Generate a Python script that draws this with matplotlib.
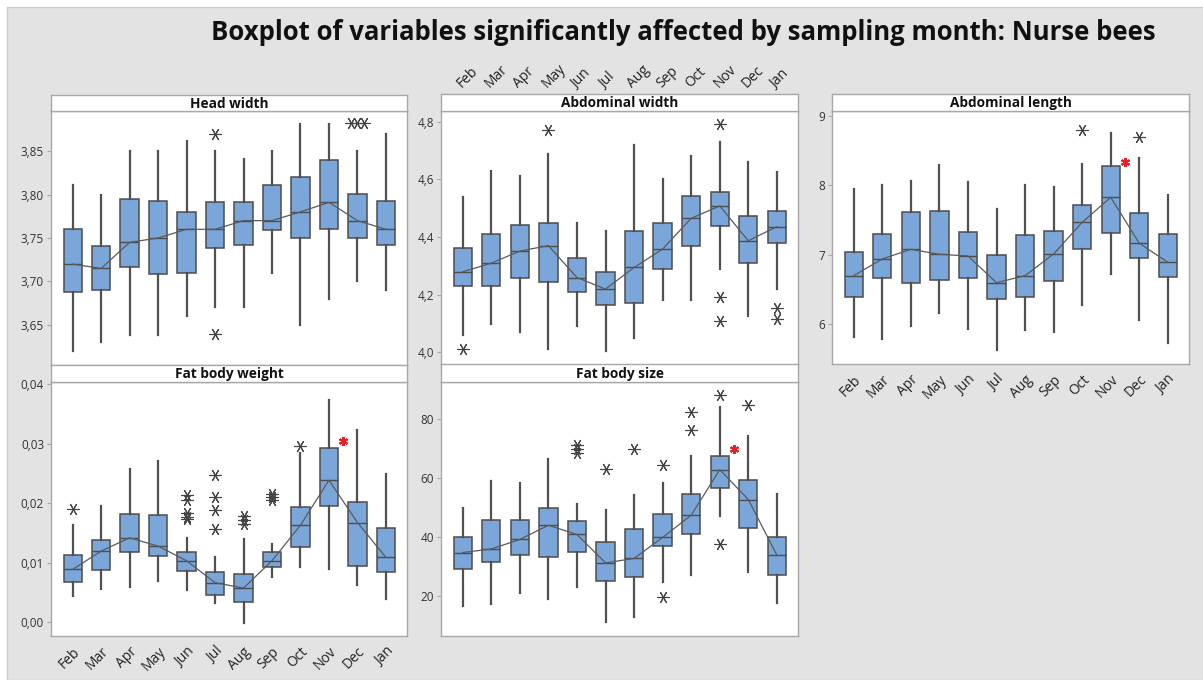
import matplotlib
matplotlib.use("Agg")
import matplotlib.pyplot as plt
from matplotlib.patches import Rectangle
from matplotlib.ticker import FuncFormatter, MultipleLocator

plt.rcParams['font.family'] = ['Open Sans', 'DejaVu Sans']

months = ['Feb', 'Mar', 'Apr', 'May', 'Jun', 'Jul', 'Aug', 'Sep', 'Oct', 'Nov', 'Dec', 'Jan']

# ---- Head width ----
hw_lo  = [3.620, 3.630, 3.639, 3.639, 3.660, 3.671, 3.671, 3.710, 3.650, 3.680, 3.700, 3.690]
hw_q1  = [3.688, 3.690, 3.717, 3.709, 3.710, 3.738, 3.742, 3.759, 3.750, 3.760, 3.750, 3.742]
hw_med = [3.720, 3.715, 3.745, 3.750, 3.760, 3.760, 3.770, 3.770, 3.780, 3.791, 3.770, 3.760]
hw_q3  = [3.760, 3.741, 3.795, 3.793, 3.780, 3.791, 3.791, 3.811, 3.820, 3.840, 3.801, 3.793]
hw_hi  = [3.811, 3.800, 3.850, 3.850, 3.861, 3.850, 3.841, 3.850, 3.881, 3.881, 3.850, 3.870]
hw_out = [[], [], [], [], [], [3.870, 3.640], [], [], [], [], [3.882, 3.882, 3.882], []]

# ---- Abdominal width ----
aw_lo  = [4.059, 4.099, 4.071, 4.009, 4.091, 4.003, 4.050, 4.181, 4.181, 4.288, 4.126, 4.219]
aw_q1  = [4.230, 4.230, 4.259, 4.244, 4.210, 4.164, 4.170, 4.288, 4.367, 4.438, 4.309, 4.378]
aw_med = [4.279, 4.309, 4.351, 4.370, 4.259, 4.219, 4.294, 4.358, 4.465, 4.508, 4.387, 4.436]
aw_q3  = [4.360, 4.410, 4.440, 4.449, 4.327, 4.279, 4.422, 4.448, 4.541, 4.557, 4.472, 4.491]
aw_hi  = [4.538, 4.631, 4.612, 4.690, 4.450, 4.420, 4.719, 4.600, 4.681, 4.730, 4.660, 4.626]
aw_out = [[4.009], [], [], [4.773], [], [], [], [], [], [4.794, 4.192, 4.108], [], [4.152, 4.116]]

# ---- Abdominal length ----
al_lo  = [5.814, 5.790, 5.977, 6.168, 5.938, 5.627, 5.914, 5.886, 6.278, 6.725, 6.063, 5.727]
al_q1  = [6.389, 6.662, 6.590, 6.633, 6.672, 6.360, 6.398, 6.619, 7.079, 7.309, 6.959, 6.676]
al_med = [6.700, 6.940, 7.079, 7.007, 6.983, 6.599, 6.700, 7.012, 7.467, 7.826, 7.165, 6.892]
al_q3  = [7.035, 7.304, 7.615, 7.634, 7.333, 6.992, 7.289, 7.347, 7.716, 8.281, 7.606, 7.304]
al_hi  = [7.951, 8.000, 8.066, 8.296, 8.051, 7.663, 8.000, 7.979, 8.310, 8.746, 8.387, 7.855]
al_out = [[], [], [], [], [], [], [], [], [8.794], [], [8.689], []]

# ---- Fat body weight ----
fw_lo  = [0.00442, 0.00565, 0.00599, 0.00699, 0.00543, 0.00319, -0.00017, 0.00755, 0.00934, 0.00889, 0.00621, 0.00386]
fw_q1  = [0.00683, 0.00873, 0.01175, 0.01108, 0.00862, 0.00464, 0.00341, 0.00934, 0.01270, 0.01958, 0.00951, 0.00839]
fw_med = [0.00889, 0.01197, 0.01421, 0.01281, 0.01035, 0.00666, 0.00576, 0.01035, 0.01634, 0.02389, 0.01678, 0.01091]
fw_q3  = [0.01130, 0.01387, 0.01829, 0.01801, 0.01180, 0.00839, 0.00806, 0.01175, 0.01941, 0.02937, 0.02020, 0.01578]
fw_hi  = [0.01634, 0.01958, 0.02573, 0.02708, 0.01410, 0.01102, 0.01399, 0.01309, 0.02848, 0.03743, 0.03239, 0.02501]
fw_out = [[0.01913], [], [], [], [0.0214, 0.0206, 0.0183, 0.0177, 0.0173],
          [0.0247, 0.0211, 0.0188, 0.0157], [0.01785, 0.01717, 0.0165], [0.02165, 0.0211, 0.02053],
          [0.0296], [], [], []]

# ---- Fat body size ----
fs_lo  = [16.9, 17.3, 21.2, 19.0, 23.3, 11.2, 13.1, 24.9, 27.1, 47.3, 28.2, 17.6]
fs_q1  = [29.1, 31.7, 33.9, 33.4, 35.1, 25.1, 26.4, 37.0, 41.1, 56.6, 43.0, 27.2]
fs_med = [34.8, 36.0, 39.2, 44.0, 40.9, 31.3, 32.8, 39.9, 47.4, 62.8, 52.7, 33.9]
fs_q3  = [40.1, 45.8, 45.8, 49.7, 45.5, 38.2, 42.6, 47.8, 54.4, 67.4, 59.2, 40.1]
fs_hi  = [49.8, 59.0, 58.4, 66.5, 51.3, 49.1, 54.2, 58.4, 67.5, 83.9, 74.2, 54.4]
fs_out = [[], [], [], [], [71.0, 69.9, 68.4], [62.9], [69.6], [64.2, 19.7], [82.2, 76.1],
          [88.0, 37.8], [84.7], []]

# red significance marks (month, value)
sig_month = 'Nov'
al_sig = 8.34
fw_sig = 0.0305
fs_sig = 69.8

# ---------------------------------------------------------------
W, H = 1203, 680
fig = plt.figure(figsize=(W / 100, H / 100), dpi=100, facecolor='white')
fig.patches.append(Rectangle((7 / W, 0), 1 - 7 / W, 1 - 7 / H, transform=fig.transFigure,
                             facecolor='#e3e3e3', edgecolor='#cccccc', linewidth=1, zorder=-10))

fig.text(0.568, 1 - 33 / H, 'Boxplot of variables significantly affected by sampling month: Nurse bees',
         ha='center', va='center', fontsize=18.5, fontweight='bold', color='#111111')

BOX_FC = '#7ba6da'
EDGE = '#4d4d4d'
SPINE = '#a8a8a8'
pos = list(range(1, 13))


def px_rect(x0, y0, x1, y1):
    return [x0 / W, 1 - y1 / H, (x1 - x0) / W, (y1 - y0) / H]


def fmt_comma(dec):
    return FuncFormatter(lambda v, p: (f'{v:.{dec}f}').replace('.', ','))


def panel(rect, strip_rect, title, lo, q1, med, q3, hi, out, ylim, ystep, ydec,
          bottom_labels=False, top_labels=False, sig=None):
    ax = fig.add_axes(px_rect(*rect))
    ax.set_facecolor('white')
    stats = []
    for i in range(12):
        stats.append(dict(whislo=lo[i], q1=q1[i], med=med[i], q3=q3[i], whishi=hi[i], fliers=[]))
    ax.bxp(stats, positions=pos, widths=0.64, patch_artist=True, showcaps=False,
           boxprops=dict(facecolor=BOX_FC, edgecolor=EDGE, linewidth=1.1),
           medianprops=dict(color=EDGE, linewidth=1.0),
           whiskerprops=dict(color='#505050', linewidth=1.6),
           showfliers=False, manage_ticks=False)
    ax.plot(pos, med, color='#5a5a5a', linewidth=0.9, zorder=4)
    # outliers, ties spread side by side
    for i, vals in enumerate(out):
        seen = {}
        for v in vals:
            seen.setdefault(round(v, 6), []).append(v)
        for key, grp in seen.items():
            n = len(grp)
            for k, v in enumerate(grp):
                dx = (k - (n - 1) / 2) * 0.24
                ax.plot(pos[i] + dx, v, linestyle='none', marker=(6, 2, 90), markersize=9,
                        markeredgewidth=0.8, color='#444444', zorder=5)
    if sig is not None:
        xi = pos[months.index(sig_month)] + 0.5
        ax.plot(xi, sig, linestyle='none', marker=(6, 2, 0), markersize=6.5,
                markeredgewidth=1.5, color='#e8202a', zorder=6)
    ax.set_xlim(0.24, 12.74)
    ax.set_ylim(*ylim)
    ax.yaxis.set_major_locator(MultipleLocator(ystep))
    ax.yaxis.set_major_formatter(fmt_comma(ydec))
    ax.tick_params(axis='y', labelsize=8.5, length=3, color=SPINE, labelcolor='#333333', pad=2)
    ax.set_xticks(pos)
    if bottom_labels:
        ax.set_xticklabels(months, rotation=45, ha='right', rotation_mode='anchor',
                           fontsize=10, color='#222222')
        ax.tick_params(axis='x', length=0, pad=6)
    else:
        ax.tick_params(axis='x', length=0, labelbottom=False)
    for s in ax.spines.values():
        s.set_color(SPINE)
        s.set_linewidth(1.0)
    sx = fig.add_axes(px_rect(*strip_rect))
    sx.set_facecolor('white')
    sx.set_xlim(0.24, 12.74)
    sx.set_yticks([])
    for s in sx.spines.values():
        s.set_color(SPINE)
        s.set_linewidth(1.0)
    sx.text(0.5, 0.45, title, transform=sx.transAxes, ha='center', va='center',
            fontsize=9.8, fontweight='bold', color='#111111')
    if top_labels:
        sx.set_xticks([p + 0.05 for p in pos])
        sx.set_xticklabels(months, rotation=45, ha='left', rotation_mode='anchor',
                           fontsize=10, color='#222222')
        sx.tick_params(axis='x', length=0, top=False, bottom=False, labeltop=True,
                       labelbottom=False, pad=2)
    else:
        sx.set_xticks([])
    return ax


# column x ranges (px), row y ranges (px)
c0 = (51, 407)
c1 = (441, 798)
c2 = (832, 1189)

panel((c0[0], 111, c0[1], 365), (c0[0], 95, c0[1], 111), 'Head width',
      hw_lo, hw_q1, hw_med, hw_q3, hw_hi, hw_out, (3.604, 3.896), 0.05, 2)
panel((c1[0], 111, c1[1], 365), (c1[0], 94, c1[1], 111), 'Abdominal width',
      aw_lo, aw_q1, aw_med, aw_q3, aw_hi, aw_out, (3.955, 4.838), 0.2, 1, top_labels=True)
panel((c2[0], 111, c2[1], 364), (c2[0], 94, c2[1], 111), 'Abdominal length',
      al_lo, al_q1, al_med, al_q3, al_hi, al_out, (5.43, 9.067), 1, 0, bottom_labels=True, sig=al_sig)
panel((c0[0], 382, c0[1], 636), (c0[0], 365, c0[1], 382), 'Fat body weight',
      fw_lo, fw_q1, fw_med, fw_q3, fw_hi, fw_out, (-0.0023, 0.0404), 0.01, 2,
      bottom_labels=True, sig=fw_sig)
panel((c1[0], 382, c1[1], 636), (c1[0], 364, c1[1], 382), 'Fat body size',
      fs_lo, fs_q1, fs_med, fs_q3, fs_hi, fs_out, (6.6, 92.4), 20, 0, sig=fs_sig)

fig.savefig('out.png', dpi=100, facecolor=fig.get_facecolor())
